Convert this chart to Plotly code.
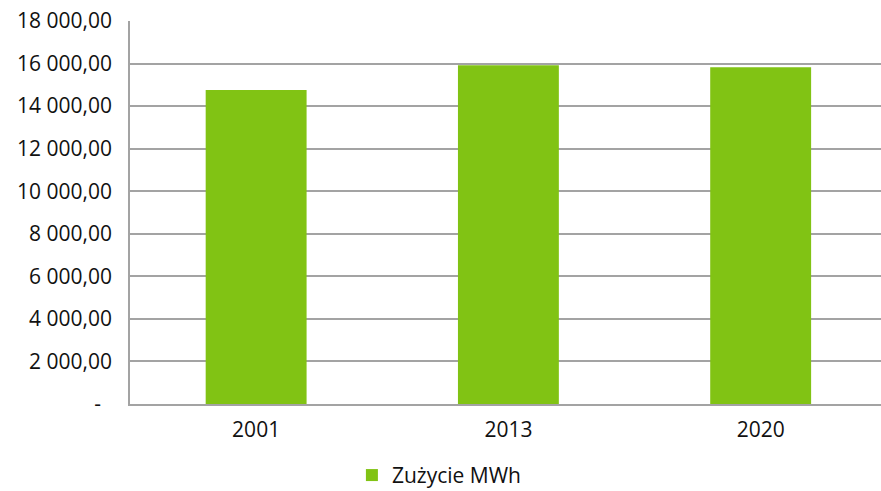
import plotly.graph_objects as go

# Annual electricity consumption
years = ["2001", "2013", "2020"]
consumption_mwh = [14760, 15920, 15830]
series_name = "Zużycie MWh"

y_tick_values = [0, 2000, 4000, 6000, 8000, 10000, 12000, 14000, 16000, 18000]
y_tick_labels = ["-\u00a0\u00a0"] + [
    f"{v:,.2f}".replace(",", "\u00a0").replace(".", ",") for v in y_tick_values[1:]
]

BAR_GREEN = "#81C314"
GRID_GREY = "#A3A3A3"
FONT = "Open Sans, Liberation Sans, sans-serif"

fig = go.Figure(
    go.Bar(
        x=years,
        y=consumption_mwh,
        name=series_name,
        marker=dict(color=BAR_GREEN, line=dict(width=0)),
        width=0.4,
        showlegend=True,
    )
)

fig.update_layout(
    width=881,
    height=491,
    margin=dict(l=130, r=0, t=21, b=87, autoexpand=False),
    paper_bgcolor="white",
    plot_bgcolor="white",
    font=dict(family=FONT, size=21, color="#111111"),
    bargap=0.6,
    showlegend=True,
    # bottom-anchored so the whole legend box stays inside the page
    legend=dict(
        orientation="h",
        x=0.412,
        xanchor="center",
        y=-0.24,
        yanchor="bottom",
        font=dict(family=FONT, size=21, color="#111111"),
        itemwidth=30,
    ),
)

fig.update_xaxes(
    type="category",
    range=[-0.5, 2.477],
    showgrid=False,
    showline=True,
    linecolor=GRID_GREY,
    linewidth=2,
    ticks="",
    tickfont=dict(size=21),
    ticklabelstandoff=6,
)

fig.update_yaxes(
    range=[0, 18000],
    tickvals=y_tick_values,
    ticktext=y_tick_labels,
    showgrid=True,
    gridcolor=GRID_GREY,
    gridwidth=1.6,
    zeroline=False,
    showline=True,
    linecolor=GRID_GREY,
    linewidth=1.6,
    ticks="",
    ticklabelstandoff=12,
)

fig.write_html("out.html")
